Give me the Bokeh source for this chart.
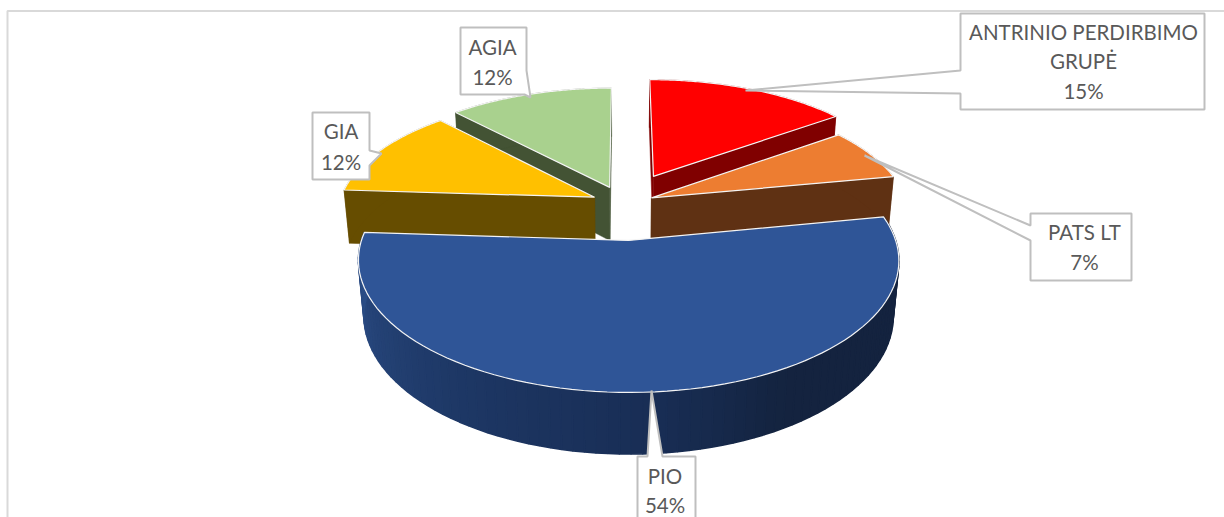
import numpy as np
from bokeh.plotting import figure
from bokeh.models import Range1d
from bokeh.core.properties import value
from bokeh.embed import file_html
from bokeh.resources import INLINE

# ---- chart data ----
categories = ["ANTRINIO PERDIRBIMO GRUPĖ", "PATS LT", "PIO", "GIA", "AGIA"]
shares = [15, 7, 54, 12, 12]
explosion = [0.267, 0.12, 0.30, 0.126, 0.15]
top_colors = ["#FF0000", "#ED7D31", "#2F5597", "#FFC000", "#A9D18E"]
side_colors = ["#800000", "#5F3113", "#14233F", "#664D00", "#435334"]
paint_order = [4, 0, 3, 1, 2]

# ---- projection of the 3D pie onto the picture ----
CX, CY = 623.0, 203.0
A, B, K, C, M = 255.5, 118.0, 0.145, 55.0, 0.02


def project(u, v, z):
    w = 1 - K * v + M * z
    return CX + A * u / w, CY + (B * v + C * z) / w


shares_arr = np.array(shares, dtype=float)
edges = np.concatenate([[0], np.cumsum(shares_arr)]) / shares_arr.sum() * 2 * np.pi

# wall shading of the big slice along its arc (degrees clockwise from top)
shade_deg = [79, 150, 175, 215, 250, 273]
shade_rgb = np.array([[20, 35, 63], [20, 36, 64], [25, 46, 85],
                      [30, 56, 102], [39, 70, 123], [44, 79, 137]], dtype=float)

xs, ys, fills, lines, widths = [], [], [], [], []


def add(px, py, fill, line, width):
    xs.append(list(map(float, px)))
    ys.append(list(map(float, py)))
    fills.append(fill)
    lines.append(line)
    widths.append(width)


for i in paint_order:
    t0, t1 = edges[i], edges[i + 1]
    mid = (t0 + t1) / 2
    u0, v0 = explosion[i] * np.sin(mid), -explosion[i] * np.cos(mid)
    t = np.linspace(t0, t1, 90)
    u, v = u0 + np.sin(t), v0 - np.cos(t)
    ax0, ay0 = project(u0, v0, 0)
    ax1, ay1 = project(u0, v0, 1)
    xt, yt = project(u, v, 0)
    xb, yb = project(u, v, 1)
    side = side_colors[i]
    right_side = np.sin(mid) > 0
    face_order = [0, -1] if right_side else [-1, 0]
    if i != 2:
        for k in face_order:
            add([ax0, xt[k], xb[k], ax1], [ay0, yt[k], yb[k], ay1], side, side, 0.5)
        add(np.r_[xt, xb[::-1]], np.r_[yt, yb[::-1]], side, side, 0.5)
    else:
        for j in range(len(t) - 1):
            deg = np.degrees((t[j] + t[j + 1]) / 2)
            rgb = [int(np.interp(deg, shade_deg, shade_rgb[:, c])) for c in range(3)]
            col = "#%02x%02x%02x" % tuple(rgb)
            add([xt[j], xt[j + 1], xb[j + 1], xb[j]], [yt[j], yt[j + 1], yb[j + 1], yb[j]], col, col, 1.6)
    add(np.r_[ax0, xt], np.r_[ay0, yt], top_colors[i], "#f4f4f4", 1.2)

p = figure(width=1224, height=517, output_backend="svg", toolbar_location=None,
           x_range=Range1d(0, 1224), y_range=Range1d(517, 0), min_border=0,
           outline_line_color=None)
p.axis.visible = False
p.grid.visible = False

# chart frame
p.line([7, 7, 1224], [517, 10.5, 10.5], line_color="#d9d9d9", line_width=2)

p.patches(xs, ys, fill_color=fills, line_color=lines, line_width=widths)

# ---- data-label callouts ----
label_boxes = [
    ([960, 960, 745, 960, 960, 1204, 1204], [13, 70, 90, 93, 109, 109, 13],
     ["ANTRINIO PERDIRBIMO", "GRUPĖ", "15%"], 1083, [31, 60, 90]),
    ([1030, 1030, 864, 1030, 1030, 1131, 1131], [213, 225, 155, 240, 280, 280, 213],
     ["PATS LT", "7%"], 1084, [231, 261]),
    ([637, 637, 647, 651, 662, 695, 695], [530, 456, 456, 390, 456, 456, 530],
     ["PIO", "54%"], 664.5, [475, 504]),
    ([312, 312, 369, 369, 381, 369, 369], [179, 112, 112, 150, 153, 165, 179],
     ["GIA", "12%"], 340.5, [130, 161]),
    ([460, 460, 526, 526, 530, 524, 460], [94, 27, 27, 70, 97, 94, 94],
     ["AGIA", "12%"], 492, [46, 76]),
]
for bx, by, texts, tx, tys in label_boxes:
    p.patch(bx, by, fill_color="#ffffff", line_color="#bfbfbf", line_width=2)
    p.text([tx] * len(texts), tys, text=texts, text_font=value("Lato"), text_font_size="20.5px",
           text_color="#595959", text_align="center", text_baseline="middle")

open("out.html", "w").write(file_html(p, INLINE))
